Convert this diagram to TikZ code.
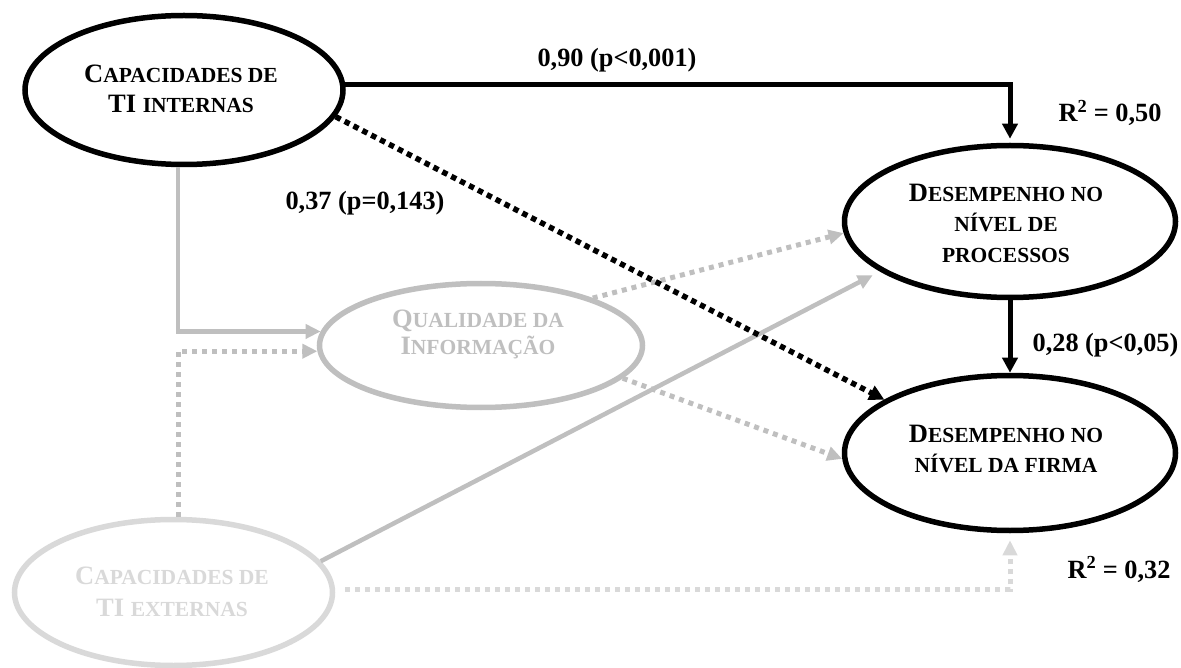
\documentclass[tikz,border=0pt]{standalone}
\usepackage{fontspec}
\setmainfont{Liberation Serif}
\usetikzlibrary{shapes.geometric,arrows.meta}
\definecolor{midgray}{HTML}{BFBFBF}
\definecolor{lightgray}{HTML}{D9D9D9}
% reduced capitals for the small-caps parts of the construct names
\newcommand\smcap[1]{{\fontsize{21.5}{30}\selectfont #1}}
\tikzset{
  construct/.style={ellipse, draw, line width=5.5pt, inner sep=0pt, fill=white},
  cname/.style={align=center, inner sep=0pt, font=\bfseries\fontsize{26.5}{30.5}\selectfont},
  coef/.style={anchor=base, inner sep=0pt, font=\bfseries\fontsize{26.3}{29}\selectfont},
  blk/.style={draw=black, line width=5pt, -{Triangle[length=15pt,width=15pt]}},
  blkdot/.style={blk, line width=5.5pt, dash pattern=on 5.5pt off 4.5pt},
  graysol/.style={draw=midgray, line width=4.5pt, -{Triangle[length=15pt,width=14pt]}},
  graydot/.style={graysol, line width=5pt, dash pattern=on 5pt off 5pt},
  lightdot/.style={graydot, draw=lightgray},
}
\begin{document}
\begin{tikzpicture}[x=1pt,y=-1pt]
\useasboundingbox (0,0) rectangle (1181,668);

% the five constructs (empty ellipses, names set separately below)
\node[construct, minimum width=318pt, minimum height=149pt] (ci) at (184,90) {};
\node[construct, minimum width=331pt, minimum height=152pt] (dp) at (1010,221.5) {};
\node[construct, minimum width=331pt, minimum height=155pt] (df) at (1010,453) {};
\node[construct, draw=midgray, minimum width=323pt, minimum height=124pt] (q) at (481,345.5) {};
\node[construct, draw=lightgray, minimum width=318pt, minimum height=146pt] (ce) at (173.5,592.5) {};

% paths
\draw[graysol] ([xshift=-6pt]ci.south) |- (q.175);
\draw[graydot] ([xshift=4.5pt]ce.north) |- (q.182);
\draw[graydot] (q.23) -- (dp.184);
\draw[graydot] (q.-13) -- (df.182);
\draw[graysol, shorten >=8pt] (ce.12) -- (dp.201);
\draw[lightdot, shorten >=7pt] ([shift={(10pt,3pt)}]ce.east) -| (df.south);
\draw[blk, shorten >=4pt] (ci.2) -| (dp.north);
\draw[blkdot] (ci.-10) -- (df.157);
\draw[blk] (dp.south) -- (df.north);

% construct names
\node[cname] (ci-t) at (181,89) {C\smcap{APACIDADES DE}\\TI \smcap{INTERNAS}};
\node[cname] (dp-t) at (1006,223) {D\smcap{ESEMPENHO NO}\\\smcap{NÍVEL DE}\\\smcap{PROCESSOS}};
\node[cname] (df-t) at (1006,449) {D\smcap{ESEMPENHO NO}\\\smcap{NÍVEL DA FIRMA}};
\node[cname, text=midgray, font=\bfseries\fontsize{26.5}{27}\selectfont] (q-t) at (478,334) {Q\smcap{UALIDADE DA}\\I\smcap{NFORMAÇÃO}};
\node[cname, text=lightgray, font=\bfseries\fontsize{26.5}{32}\selectfont] (ce-t) at (172,592) {C\smcap{APACIDADES DE}\\TI \smcap{EXTERNAS}};

% path coefficients and explained variance
\node[coef] (l1) at (617,67) {0,90 (p<0,001)};
\node[coef] (l2) at (365,210) {0,37 (p=0,143)};
\node[coef] (l3) at (1105.5,352) {0,28 (p<0,05)};
\node[coef] (r1) at (1110,122) {R\textsuperscript{2} = 0,50};
\node[coef] (r2) at (1119,578) {R\textsuperscript{2} = 0,32};
\end{tikzpicture}
\end{document}
